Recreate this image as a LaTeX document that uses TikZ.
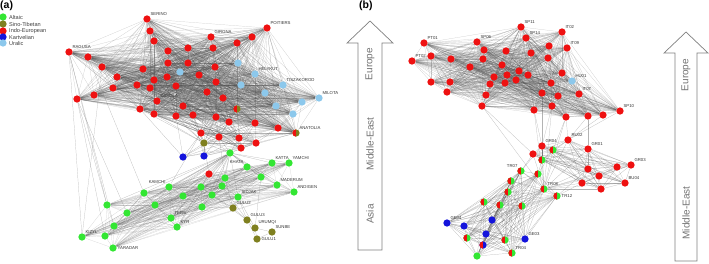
\documentclass[tikz,border=0pt]{standalone}
\usepackage{fontspec}
\setmainfont{Liberation Sans}
\usetikzlibrary{backgrounds}

\definecolor{altaic}{HTML}{33E633}
\definecolor{sino}{HTML}{7F8020}
\definecolor{indo}{HTML}{EE1111}
\definecolor{kart}{HTML}{1414DC}
\definecolor{ural}{HTML}{8CC8EC}
\definecolor{edgec}{HTML}{4A4A4A}

\tikzset{
  pop/.style={circle, inner sep=0pt, minimum size=7.3pt, draw=none},
  alt/.style={pop, fill=altaic},
  sin/.style={pop, fill=sino},
  ie/.style={pop, fill=indo},
  ka/.style={pop, fill=kart},
  ur/.style={pop, fill=ural},
  mixrg/.style={pop, fill=altaic, path picture={\fill[indo] (path picture bounding box.north west) rectangle (path picture bounding box.south);}},
  mixro/.style={pop, fill=sino, path picture={\fill[indo] (path picture bounding box.north west) rectangle (path picture bounding box.south);}},
  mixrb/.style={pop, fill=kart, path picture={\fill[indo] (path picture bounding box.north west) rectangle (path picture bounding box.south);}},
  lab/.style={font=\fontsize{4.3}{5}\selectfont, text=black!80, inner sep=0.6pt},
  legtext/.style={font=\fontsize{5.6}{6}\selectfont, text=black!75, anchor=west, inner sep=0pt},
  link/.style={draw=edgec, line width=0.2pt, opacity=0.42},
  dense/.style={draw=edgec, line width=0.2pt, opacity=0.3},
  faint/.style={draw=edgec, line width=0.2pt, opacity=0.26},
  bigarrow/.style={draw=black!50, line width=0.7pt, fill=white},
  region/.style={font=\fontsize{10}{12}\selectfont, text=black!55, rotate=90},
  panel/.style={font=\fontsize{10.5}{12}\selectfont\bfseries, anchor=north west, inner sep=0pt},
}

\begin{document}
\begin{tikzpicture}[x=1pt, y=-1pt]
\useasboundingbox (0,0) rectangle (709,263);

% panel labels and legend
\node[panel] (pa) at (0,1) {(a)};
\node[panel] (pb) at (359,1) {(b)};
\node[alt] (lg1) at (3,17) {};
\node[sin] (lg2) at (3,24) {};
\node[ie] (lg3) at (3,31) {};
\node[ka] (lg4) at (3,37) {};
\node[ur] (lg5) at (3,43) {};
\node[legtext] (lt1) at (9,17) {Altaic};
\node[legtext] (lt2) at (9,24) {Sino-Tibetan};
\node[legtext] (lt3) at (9,31) {Indo-European};
\node[legtext] (lt4) at (9,37) {Kartvelian};
\node[legtext] (lt5) at (9,43) {Uralic};

% big arrows
\draw[bigarrow] (358,250) -- (358,43) -- (347,43) -- (370,21) -- (393,43) -- (382,43) -- (382,250) -- cycle;
\node[region] (ra1) at (370,64) {Europe};
\node[region] (ra2) at (370,144) {Middle-East};
\node[region] (ra3) at (370,214) {Asia};
\draw[bigarrow] (675,261) -- (675,53) -- (664,53) -- (686,32) -- (708,53) -- (697,53) -- (697,261) -- cycle;
\node[region] (rb1) at (686,75) {Europe};
\node[region] (rb2) at (686,213) {Middle-East};

% (a) europe
\node[ie] (e1) at (147,19) [label={[lab]above right:SERINO}] {};
\node[ie] (e2) at (150,31) {};
\node[ie] (e3) at (154,41) {};
\node[ie] (e4) at (168,51) {};
\node[ie] (e5) at (168,63) {};
\node[ie] (e6) at (69,52) [label={[lab]above right:RAGUSA}] {};
\node[ie] (e7) at (88,57) {};
\node[ie] (e8) at (102,67) {};
\node[ie] (e9) at (117,77) {};
\node[ie] (e10) at (143,69) {};
\node[ie] (e11) at (154,80) {};
\node[ie] (e12) at (167,77) {};
\node[ie] (e13) at (176,86) {};
\node[ie] (e14) at (113,88) {};
\node[ie] (e15) at (150,88) {};
\node[ie] (e16) at (211,37) [label={[lab]above right:GIRONA}] {};
\node[ie] (e17) at (188,48) {};
\node[ie] (e18) at (213,48) {};
\node[ie] (e19) at (237,43) {};
\node[ie] (e20) at (252,37) {};
\node[ie] (e21) at (267,28) [label={[lab]above right:POITIERS}] {};
\node[ie] (e22) at (188,63) {};
\node[ie] (e23) at (215,67) {};
\node[ie] (e24) at (199,75) {};
\node[ie] (e25) at (216,82) {};
\node[ie] (e26) at (77,99) {};
\node[ie] (e27) at (94,95) {};
\node[ie] (e28) at (137,85) {};
\node[ie] (e29) at (207,92) {};
\node[ie] (e30) at (223,98) {};
\node[ie] (e31) at (157,101) [label={[lab]above right:CASOLA}] {};
\node[ie] (e32) at (140,109) {};
\node[ie] (e33) at (154,114) {};
\node[ie] (e34) at (176,116) {};
\node[ie] (e35) at (183,106) {};
\node[ie] (e36) at (193,115) {};
\node[ie] (e37) at (216,117) {};
\node[ie] (e38) at (229,122) {};
\node[mixro] (e39) at (237,109) {};
\node[ie] (e40) at (255,123) {};
\node[ie] (e41) at (278,128) {};
\node[mixro] (e42) at (296,133) [label={[lab]above right:ANATOLIA}] {};
\node[ur] (e43) at (180,72) {};
\node[ur] (e44) at (238,63) {};
\node[ur] (e45) at (255,74) [label={[lab]above right:HELYKUT}] {};
\node[ur] (e46) at (241,85) {};
\node[ur] (e47) at (265,93) {};
\node[ur] (e48) at (283,85) [label={[lab]above right:TISZAKOROD}] {};
\node[ur] (e49) at (276,106) {};
\node[ur] (e50) at (293,114) {};
\node[ur] (e51) at (302,102) {};
\node[ur] (e52) at (319,98) [label={[lab]above right:MILOTA}] {};

% (a) middle-east
\node[ie] (m1) at (201,133) {};
\node[sin] (m2) at (204,143) {};
\node[ie] (m3) at (219,137) {};
\node[ie] (m4) at (239,138) {};
\node[ie] (m5) at (241,148) {};
\node[ie] (m6) at (256,143) {};
\node[ka] (m7) at (183,157) {};
\node[ka] (m8) at (204,156) {};
\node[alt] (m9) at (230,153) {};

% (a) asia
\node[ie] (s1) at (209,174) {};
\node[alt] (s2) at (247,167) [label={[lab]above left:KHATA}] {};
\node[alt] (s3) at (272,163) [label={[lab]above right:KATTA}] {};
\node[alt] (s4) at (289,163) [label={[lab]above right:YAMCHI}] {};
\node[alt] (s5) at (261,177) {};
\node[alt] (s6) at (277,185) [label={[lab]above right:MADERUM}] {};
\node[alt] (s7) at (294,192) [label={[lab]above right:ANDIGEN}] {};
\node[alt] (s8) at (225,178) {};
\node[alt] (s9) at (222,186) {};
\node[alt] (s10) at (201,187) {};
\node[alt] (s11) at (169,187) [label={[lab]above left:KAMCHI}] {};
\node[alt] (s12) at (212,195) {};
\node[alt] (s13) at (183,196) {};
\node[alt] (s14) at (238,197) [label={[lab]above right:SIDJAK}] {};
\node[alt] (s15) at (144,193) {};
\node[alt] (s16) at (107,205) {};
\node[alt] (s17) at (127,213) {};
\node[alt] (s18) at (155,205) {};
\node[alt] (s19) at (202,207) {};
\node[alt] (s20) at (171,218) [label={[lab]above right:TERS}] {};
\node[alt] (s21) at (177,227) [label={[lab]above right:KYR}] {};
\node[alt] (s22) at (114,226) {};
\node[alt] (s23) at (105,236) {};
\node[alt] (s24) at (82,237) [label={[lab]above right:KIZYL}] {};
\node[alt] (s25) at (113,248) [label={[lab]right:YARADAR}] {};
\node[sin] (s26) at (233,208) [label={[lab]above right:GULU2}] {};
\node[sin] (s27) at (247,220) [label={[lab]above right:GULU3}] {};
\node[sin] (s28) at (255,228) [label={[lab]above right:URUMQI}] {};
\node[sin] (s29) at (272,232) [label={[lab]above right:SUNBE}] {};
\node[sin] (s30) at (257,239) [label={[lab]right:GULU1}] {};

% (b) europe
\node[ie] (p1) at (424,43) [label={[lab]above right:PT01}] {};
\node[ie] (p2) at (521,27) [label={[lab]above right:SP11}] {};
\node[ie] (p3) at (526,38) [label={[lab]above right:SP14}] {};
\node[ie] (p4) at (477,42) [label={[lab]above right:SP06}] {};
\node[ie] (p5) at (431,56) {};
\node[ie] (p6) at (412,61) [label={[lab]above right:PT02}] {};
\node[ie] (p7) at (451,59) {};
\node[ie] (p8) at (484,50) {};
\node[ie] (p9) at (506,51) {};
\node[ie] (p10) at (531,53) {};
\node[ie] (p11) at (549,46) {};
\node[ie] (p12) at (548,58) {};
\node[ie] (p13) at (483,59) {};
\node[ie] (p14) at (470,67) {};
\node[ie] (p15) at (502,65) {};
\node[ie] (p16) at (519,71) {};
\node[ie] (p17) at (528,75) {};
\node[ie] (p18) at (507,75) {};
\node[ie] (p19) at (516,80) {};
\node[ie] (p20) at (494,77) {};
\node[ie] (p21) at (505,83) {};
\node[ie] (p22) at (490,84) {};
\node[ie] (p23) at (431,82) {};
\node[ie] (p24) at (450,82) {};
\node[ie] (p25) at (447,92) {};
\node[ie] (p26) at (486,95) {};
\node[ie] (p27) at (482,106) {};
\node[ie] (p28) at (534,110) {};
\node[ie] (p29) at (552,106) {};
\node[ie] (p30) at (542,93) {};
\node[ie] (p31) at (551,83) {};
\node[ie] (p32) at (558,96) {};
\node[ie] (p33) at (562,32) [label={[lab]above right:IT02}] {};
\node[ie] (p34) at (567,48) [label={[lab]above right:IT09}] {};
\node[ie] (p35) at (562,73) {};
\node[ur] (p36) at (572,81) [label={[lab]above right:HU01}] {};
\node[ie] (p37) at (579,94) [label={[lab]above right:IT07}] {};
\node[ie] (p38) at (566,117) {};
\node[ie] (p39) at (588,116) {};
\node[ie] (p40) at (603,115) {};
\node[ie] (p41) at (620,111) [label={[lab]above right:SP10}] {};

% (b) middle-east
\node[ie] (q1) at (568,140) [label={[lab]above right:RU02}] {};
\node[ie] (q2) at (542,146) [label={[lab]above right:GR04}] {};
\node[mixrg] (q3) at (553,150) {};
\node[ie] (q4) at (533,154) {};
\node[mixrg] (q5) at (542,160) {};
\node[ie] (q6) at (588,149) [label={[lab]above right:GR01}] {};
\node[ie] (q7) at (588,169) {};
\node[ie] (q8) at (599,176) {};
\node[ie] (q9) at (617,167) {};
\node[ie] (q10) at (631,165) [label={[lab]above right:GR03}] {};
\node[ie] (q11) at (625,183) [label={[lab]above right:BU04}] {};
\node[ie] (q12) at (582,183) {};
\node[ie] (q13) at (601,189) {};
\node[mixrg] (q14) at (521,171) [label={[lab]above left:TR07}] {};
\node[mixrg] (q15) at (538,174) {};
\node[mixrg] (q16) at (511,181) {};
\node[mixrg] (q17) at (508,192) {};
\node[mixrg] (q18) at (544,189) [label={[lab]above right:TR08}] {};
\node[mixrg] (q19) at (557,196) [label={[lab]right:TR12}] {};
\node[mixrg] (q20) at (484,202) {};
\node[mixrg] (q21) at (500,205) {};
\node[mixrg] (q22) at (522,206) {};
\node[ka] (q23) at (447,223) [label={[lab]above right:GE04}] {};
\node[ka] (q24) at (464,226) {};
\node[ka] (q25) at (492,220) {};
\node[ka] (q26) at (486,234) {};
\node[ka] (q27) at (525,239) [label={[lab]above right:GE03}] {};
\node[mixrg] (q28) at (467,238) {};
\node[mixrb] (q29) at (483,245) {};
\node[alt] (q30) at (477,256) {};
\node[mixrg] (q31) at (505,240) {};
\node[mixrg] (q32) at (512,253) [label={[lab]above right:TR04}] {};

% connectors
\begin{scope}[on background layer]
  \foreach \i in {1,...,52}{
    \foreach \j in {1,...,52}{
      \ifnum\i<\j \draw[dense] (e\i) -- (e\j); \fi
    }
  }
  \foreach \i in {1,...,6}{
    \foreach \j in {29,...,42}{
      \draw[link] (m\i) -- (e\j);
    }
  }
  \foreach \i in {1,...,6}{
    \foreach \j in {1,...,9}{
      \ifnum\i<\j \draw[link] (m\i) -- (m\j); \fi
    }
  }
  \foreach \j in {1,...,25}{
    \draw[link] (m9) -- (s\j);
  }
  \foreach \i in {1,...,25}{
    \foreach \j in {1,...,25}{
      \ifnum\i<\j \draw[faint] (s\i) -- (s\j); \fi
    }
  }
  \foreach \a/\b in {s26/s8, s26/s9, s26/s12, s26/s14, s26/s19, s27/s14, s27/s12,
      s27/s26, s28/s27, s28/s14, s29/s28, s30/s28, s30/s27, s29/s30, s27/s9, s28/s5,
      e6/s16, e6/s22, e6/s24, e26/s16, e26/s17, e26/s23, e7/s15, e8/s24,
      m7/e32, m7/e34, m8/e36, m2/s1, m1/s11, m3/s8}{
    \draw[link] (\a) -- (\b);
  }
  % (b)
  \foreach \i in {1,...,41}{
    \foreach \j in {1,...,41}{
      \ifnum\i<\j \draw[dense] (p\i) -- (p\j); \fi
    }
  }
  \foreach \i in {1,...,13}{
    \foreach \j in {1,...,13}{
      \ifnum\i<\j \draw[link] (q\i) -- (q\j); \fi
    }
  }
  \foreach \i in {14,...,32}{
    \foreach \j in {14,...,32}{
      \ifnum\i<\j \draw[link] (q\i) -- (q\j); \fi
    }
  }
  \foreach \j in {1,...,13}{
    \draw[link] (q18) -- (q\j);
  }
  \foreach \a/\b in {q14/q2, q14/q4, q15/q3, q15/q5, q19/q7, q19/q12,
      q1/p38, q1/p39, q1/p40, q1/p41, q2/p28, q2/p29, q3/p38, q6/p39,
      q18/p27, q18/p28, q18/p29, q18/p38, q4/p27, q5/p30}{
    \draw[link] (\a) -- (\b);
  }
\end{scope}
\end{tikzpicture}
\end{document}
